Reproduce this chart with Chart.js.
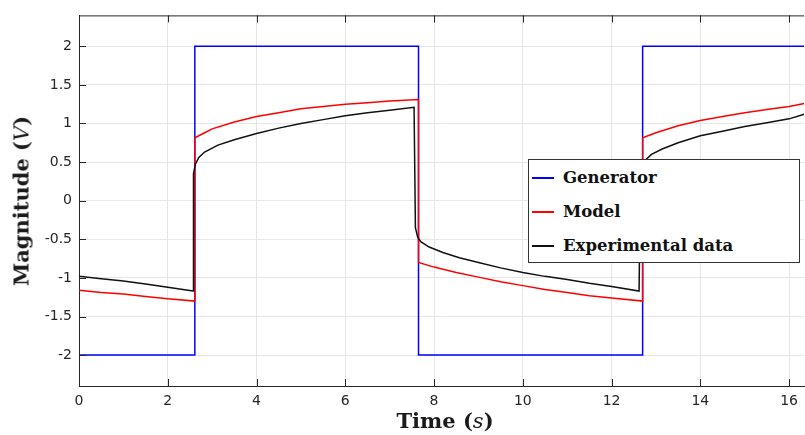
<!DOCTYPE html>
<html>
<head>
<meta charset="utf-8">
<script src="https://cdn.jsdelivr.net/npm/chart.js@4.4.1/dist/chart.umd.min.js"></script>
<style>
  html, body { margin: 0; padding: 0; background: #fff; }
  #wrap { position: relative; width: 805px; height: 435px; overflow: hidden; }
  #chart { position: absolute; left: 0; top: 0; }
  .title { position: absolute; font-family: "DejaVu Serif", serif; font-weight: bold; font-size: 21px; color: #1a1a1a; white-space: nowrap; }
  .title i { font-weight: normal; font-style: italic; }
  #xTitle { left: 445px; top: 420px; transform: translate(-50%, -50%); }
  #yTitle { left: 21px; top: 201px; transform: translate(-50%, -50%) rotate(-90deg); }
  #legend { position: absolute; left: 528px; top: 159px; width: 270px; height: 102px; background: #fff; border: 1px solid #333; }
  .item { position: absolute; left: 0; height: 20px; font-family: "DejaVu Serif", serif; font-weight: bold; font-size: 16.5px; color: #111; }
  .item span.swatch { position: absolute; left: 3px; top: 9px; width: 22px; height: 2px; }
  .item span.label { position: absolute; left: 34px; top: 0; line-height: 20px; white-space: nowrap; }
</style>
</head>
<body>
<div id="wrap">
  <canvas id="chart" width="805" height="435"></canvas>
  <div id="yTitle" class="title">Magnitude (<i>V</i>)</div>
  <div id="xTitle" class="title">Time (<i>s</i>)</div>
  <div id="legend"></div>
</div>
<script>
// ---- данные ----
const xTicks = [0, 2, 4, 6, 8, 10, 12, 14, 16];
const yTicks = [-2, -1.5, -1, -0.5, 0, 0.5, 1, 1.5, 2];

const seriesNames = ["Generator", "Model", "Experimental data"];
const seriesColors = ["#0000ff", "#ff0000", "#111111"];

// генератор (прямоугольный сигнал)
const genT = [0, 2.61, 2.61, 7.65, 7.65, 12.7, 12.7, 16.34];
const genV = [-2, -2, 2, 2, -2, -2, 2, 2];

// модель
const modelT = [0, 0.5, 1, 1.5, 2, 2.61,
  2.61, 2.8, 3, 3.5, 4, 4.5, 5, 5.5, 6, 6.5, 7, 7.65,
  7.65, 8, 8.5, 9, 9.5, 10, 10.5, 11, 11.5, 12, 12.7,
  12.7, 13, 13.5, 14, 14.5, 15, 15.5, 16, 16.34];
const modelV = [-1.16, -1.19, -1.21, -1.24, -1.27, -1.30,
  0.815, 0.87, 0.93, 1.02, 1.09, 1.14, 1.19, 1.22, 1.25, 1.27, 1.29, 1.31,
  -0.80, -0.86, -0.93, -0.99, -1.05, -1.10, -1.15, -1.19, -1.23, -1.26, -1.30,
  0.815, 0.88, 0.97, 1.04, 1.09, 1.14, 1.18, 1.22, 1.26];

// эксперимент
const expT = [0, 0.5, 1, 1.5, 2, 2.57,
  2.58, 2.62, 2.7, 2.83, 3.13, 3.5, 4, 4.5, 5, 5.5, 6, 6.5, 7, 7.55,
  7.58, 7.63, 7.7, 7.89, 8.2, 8.57, 9, 9.5, 10, 10.5, 11, 11.5, 12, 12.62,
  12.65, 12.69, 12.77, 12.9, 13.14, 13.5, 14, 14.5, 15, 15.5, 16, 16.34];
const expV = [-0.98, -1.01, -1.04, -1.08, -1.12, -1.17,
  0.35, 0.47, 0.56, 0.63, 0.72, 0.79, 0.87, 0.94, 1.00, 1.05, 1.10, 1.14, 1.17, 1.21,
  -0.35, -0.47, -0.53, -0.60, -0.67, -0.74, -0.80, -0.87, -0.93, -0.98, -1.02, -1.07, -1.11, -1.17,
  0.35, 0.47, 0.53, 0.60, 0.67, 0.75, 0.84, 0.90, 0.96, 1.01, 1.06, 1.12];

const toPoints = (t, v) => t.map((x, i) => ({ x: x, y: v[i] }));

// внутренние тики и верхняя рамка (как в MATLAB)
const innerTicks = {
  id: "innerTicks",
  afterDatasetsDraw(chart) {
    const { ctx, chartArea: { left, right, top, bottom }, scales: { x, y } } = chart;
    ctx.save();
    ctx.strokeStyle = "#262626";
    ctx.lineWidth = 1;
    ctx.beginPath();
    ctx.moveTo(left, top + 0.5);
    ctx.lineTo(right, top + 0.5);
    xTicks.forEach(v => {
      const px = Math.round(x.getPixelForValue(v)) + 0.5;
      ctx.moveTo(px, bottom);
      ctx.lineTo(px, bottom - 7);
      ctx.moveTo(px, top);
      ctx.lineTo(px, top + 7);
    });
    yTicks.forEach(v => {
      const py = Math.round(y.getPixelForValue(v)) + 0.5;
      ctx.moveTo(left, py);
      ctx.lineTo(left + 7, py);
    });
    ctx.stroke();
    ctx.restore();
  }
};

const tickFont = { family: "DejaVu Sans", size: 14 };

new Chart(document.getElementById("chart"), {
  type: "line",
  data: {
    datasets: [
      { label: seriesNames[0], data: toPoints(genT, genV), borderColor: seriesColors[0], order: 3 },
      { label: seriesNames[1], data: toPoints(modelT, modelV), borderColor: seriesColors[1], order: 2 },
      { label: seriesNames[2], data: toPoints(expT, expV), borderColor: seriesColors[2], order: 1 }
    ]
  },
  options: {
    responsive: false,
    animation: false,
    devicePixelRatio: 1,
    layout: { padding: { top: 12, right: 0, bottom: 0, left: 0 } },
    elements: {
      line: { borderWidth: 1.5, tension: 0, fill: false },
      point: { radius: 0 }
    },
    plugins: { legend: { display: false }, tooltip: { enabled: false } },
    scales: {
      x: {
        type: "linear",
        min: 0,
        max: 16.34,
        afterBuildTicks: s => { s.ticks = xTicks.map(v => ({ value: v })); },
        afterFit: s => { s.height = 49; },
        grid: { color: "#e6e6e6", drawTicks: false },
        border: { color: "#262626" },
        ticks: { color: "#262626", font: tickFont, padding: 7, maxRotation: 0, callback: v => String(v) }
      },
      y: {
        type: "linear",
        min: -2.4,
        max: 2.4,
        afterBuildTicks: s => { s.ticks = yTicks.map(v => ({ value: v })); },
        afterFit: s => { s.width = 79; },
        grid: { color: "#e6e6e6", drawTicks: false },
        border: { color: "#262626" },
        ticks: { color: "#262626", font: tickFont, padding: 7, callback: v => String(v) }
      }
    }
  },
  plugins: [innerTicks]
});

// легенда поверх графика
const legend = document.getElementById("legend");
const rowTops = [8, 42, 76];
seriesNames.forEach((name, i) => {
  const item = document.createElement("div");
  item.className = "item";
  item.style.top = rowTops[i] + "px";
  item.innerHTML = '<span class="swatch" style="background:' + seriesColors[i] + '"></span><span class="label">' + name + '</span>';
  legend.appendChild(item);
});
</script>
</body>
</html>
